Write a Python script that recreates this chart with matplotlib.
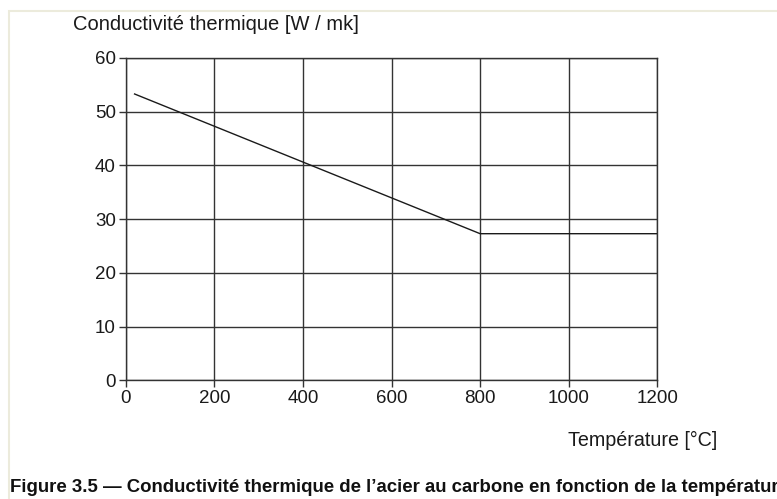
import matplotlib
matplotlib.use("Agg")
import matplotlib.pyplot as plt
from matplotlib.patches import Rectangle

plt.rcParams['font.family'] = ['Liberation Sans', 'DejaVu Sans']

# thermal conductivity of carbon steel vs temperature
temperature = [20, 800, 1200]
conductivity = [53.3, 27.3, 27.3]

x_ticks = [0, 200, 400, 600, 800, 1000, 1200]
y_ticks = [0, 10, 20, 30, 40, 50, 60]

fig = plt.figure(figsize=(7.77, 4.99), dpi=100)
fig.patch.set_facecolor('white')

# faint frame around the figure
fig.patches.append(Rectangle((9 / 777, -0.1), 1.0, 1 - 11 / 499 + 0.1,
                             transform=fig.transFigure, fill=False,
                             edgecolor='#ecebdc', linewidth=1.5))

ax = fig.add_axes([0.1618, 0.2377, 0.6842, 0.6461])
ax.plot(temperature, conductivity, color='#1a1a1a', linewidth=1.0)

ax.set_xlim(0, 1200)
ax.set_ylim(0, 60)
ax.set_xticks(x_ticks)
ax.set_yticks(y_ticks)
ax.grid(True, color='#333333', linewidth=1.0)
ax.set_axisbelow(True)
for s in ax.spines.values():
    s.set_color('#333333')
    s.set_linewidth(1.0)
ax.tick_params(length=5, width=1.0, color='#333333', labelsize=13.5,
               labelcolor='#1a1a1a', pad=2)

fig.text(73 / 777, 1 - 25 / 499, 'Conductivité thermique [W / mk]',
         fontsize=14.5, color='#1a1a1a', va='center', ha='left')
fig.text(717 / 777, 1 - 440 / 499, 'Température [°C]',
         fontsize=14.2, color='#1a1a1a', va='center', ha='right')
fig.text(10 / 777, 1 - 488 / 499,
         'Figure 3.5 — Conductivité thermique de l’acier au carbone en fonction de la température',
         fontsize=13.4, fontweight='bold', color='#111111', va='center', ha='left')

fig.savefig('out.png', dpi=100)
